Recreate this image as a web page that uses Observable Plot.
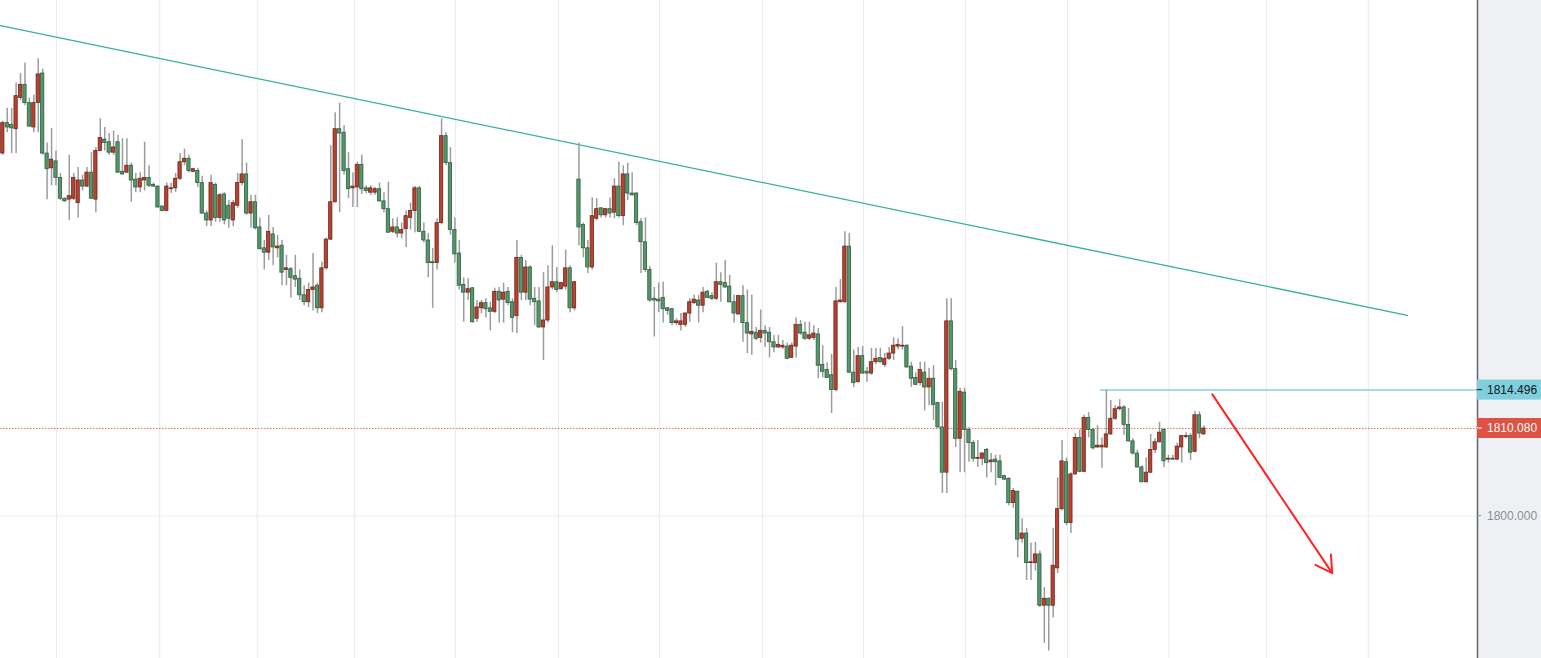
<!DOCTYPE html>
<html><head><meta charset="utf-8">
<script src="https://cdn.jsdelivr.net/npm/d3@7"></script>
<script src="https://cdn.jsdelivr.net/npm/@observablehq/plot@0.6"></script>
<style>
html,body{margin:0;padding:0;background:#fff;overflow:hidden}
#chart{width:1541px;height:658px;background:linear-gradient(to right,#ffffff 0,#ffffff 1477px,#eef0f4 1477px)}
#chart svg{display:block}
</style></head><body><div id="chart"></div>
<script>
const open=[1841.7,1845.2,1845.0,1844.5,1848.1,1849.6,1847.5,1844.7,1847.5,1850.9,1841.7,1840.0,1840.8,1838.9,1836.5,1836.4,1836.5,1836.0,1838.6,1837.9,1839.5,1836.4,1842.0,1843.3,1843.0,1841.8,1843.0,1839.6,1839.5,1840.3,1838.7,1837.8,1838.6,1838.9,1838.1,1837.9,1835.6,1835.1,1837.6,1837.7,1838.8,1840.7,1841.1,1839.6,1839.7,1838.3,1834.8,1834.0,1838.1,1834.3,1837.0,1835.7,1834.0,1835.7,1838.3,1839.3,1834.8,1836.1,1833.2,1830.8,1830.3,1832.4,1830.8,1831.1,1828.3,1828.4,1827.6,1827.3,1825.4,1824.6,1826.0,1826.5,1823.9,1828.5,1831.8,1836.1,1844.5,1844.1,1839.9,1837.7,1837.8,1840.4,1837.7,1837.2,1837.2,1837.6,1836.2,1835.3,1832.7,1833.2,1832.5,1833.0,1834.3,1835.1,1837.7,1832.7,1831.7,1829.2,1829.1,1833.7,1843.7,1840.6,1832.9,1830.2,1826.6,1825.7,1826.2,1822.7,1823.9,1824.5,1823.9,1823.5,1825.8,1824.9,1825.8,1824.6,1823.0,1829.7,1825.7,1828.6,1825.0,1824.7,1821.7,1822.5,1826.3,1826.9,1826.1,1826.4,1828.5,1823.9,1838.7,1833.5,1830.8,1828.6,1834.2,1835.4,1834.6,1835.3,1834.9,1837.9,1834.5,1839.3,1837.1,1837.1,1833.8,1831.5,1828.3,1825.0,1824.9,1825.1,1823.9,1823.8,1822.2,1822.0,1822.0,1823.3,1824.5,1824.8,1824.2,1825.8,1825.3,1825.0,1826.9,1826.8,1826.4,1824.6,1823.2,1825.3,1822.2,1820.9,1821.1,1820.5,1821.3,1821.1,1820.0,1819.4,1819.4,1819.5,1818.2,1819.5,1822.0,1821.1,1820.4,1820.5,1820.9,1817.4,1816.8,1816.2,1814.5,1824.6,1824.6,1831.0,1816.5,1815.4,1818.4,1816.6,1816.4,1817.7,1818.2,1817.4,1818.1,1818.7,1819.5,1819.5,1819.6,1817.2,1815.9,1815.3,1816.5,1814.8,1815.8,1813.0,1810.2,1805.0,1822.4,1816.9,1808.9,1814.2,1809.9,1808.4,1806.6,1806.6,1807.6,1806.2,1806.5,1806.3,1804.6,1804.3,1801.5,1802.8,1797.4,1798.0,1794.6,1794.6,1795.6,1789.7,1790.5,1789.7,1794.0,1800.8,1806.2,1799.2,1804.8,1809.0,1805.1,1811.3,1809.9,1807.9,1807.9,1807.9,1809.4,1811.2,1812.3,1812.5,1810.5,1808.6,1807.2,1805.6,1803.9,1805.0,1807.6,1808.5,1809.9,1806.5,1806.6,1806.5,1807.9,1809.1,1809.2,1807.4,1811.6,1809.4];
const high=[1845.4,1846.9,1846.9,1849.8,1850.9,1852.1,1848.1,1848.4,1852.6,1851.4,1842.9,1844.6,1842.0,1839.4,1836.6,1841.5,1839.4,1840.1,1839.2,1840.1,1841.8,1842.4,1845.7,1844.7,1844.0,1844.3,1843.8,1843.4,1843.4,1840.6,1839.4,1839.5,1843.0,1840.3,1838.3,1838.0,1835.7,1838.3,1838.3,1839.4,1841.7,1842.2,1841.5,1840.0,1840.0,1839.1,1835.1,1839.2,1838.3,1837.1,1837.2,1836.3,1836.3,1839.4,1843.3,1840.6,1836.9,1836.9,1834.3,1831.7,1834.6,1833.2,1832.3,1831.7,1830.0,1828.6,1830.0,1828.3,1826.5,1826.8,1830.2,1826.8,1829.2,1832.0,1842.6,1846.4,1847.5,1844.9,1841.8,1839.5,1840.7,1841.5,1838.0,1838.0,1837.8,1838.3,1837.2,1838.4,1834.2,1834.3,1833.7,1835.1,1836.0,1837.9,1837.9,1833.7,1832.5,1830.8,1834.2,1845.7,1844.1,1842.4,1834.3,1831.7,1827.4,1827.3,1826.3,1824.8,1824.8,1825.0,1824.6,1826.2,1826.3,1826.8,1826.3,1825.0,1831.7,1830.0,1829.4,1828.8,1826.3,1826.3,1828.0,1828.8,1831.1,1828.6,1826.9,1830.6,1828.8,1827.0,1842.9,1833.7,1831.7,1836.6,1836.5,1835.5,1835.4,1836.6,1838.8,1840.7,1840.3,1840.6,1839.5,1837.2,1834.2,1834.3,1828.7,1826.3,1826.8,1826.9,1824.0,1823.9,1822.7,1823.3,1823.4,1825.0,1825.4,1825.4,1826.3,1826.0,1825.7,1829.1,1828.0,1829.4,1827.7,1825.4,1825.4,1826.5,1826.0,1825.4,1821.7,1823.7,1821.9,1821.7,1820.8,1820.8,1820.2,1819.9,1819.9,1822.8,1822.5,1822.3,1822.3,1821.9,1821.6,1819.6,1817.6,1818.6,1826.3,1827.2,1832.7,1832.5,1819.1,1819.4,1819.5,1817.1,1819.3,1819.3,1819.3,1818.7,1819.4,1820.5,1820.4,1821.8,1819.7,1817.7,1816.5,1817.7,1817.7,1817.0,1817.3,1813.1,1813.1,1825.0,1825.0,1817.9,1814.7,1814.7,1810.2,1808.7,1808.7,1807.3,1807.8,1807.2,1807.0,1807.0,1804.7,1804.4,1803.2,1802.9,1799.7,1798.6,1796.9,1797.0,1796.0,1791.8,1790.6,1798.6,1804.4,1808.7,1806.7,1805.0,1809.5,1809.9,1811.6,1811.9,1810.1,1810.4,1809.0,1814.5,1813.3,1812.7,1813.4,1812.7,1812.4,1808.9,1807.6,1805.8,1806.7,1809.4,1808.9,1810.8,1810.1,1807.0,1807.0,1808.4,1809.3,1809.6,1809.5,1812.0,1812.0,1810.4];
const low=[1841.5,1844.1,1841.7,1841.7,1847.8,1847.2,1844.7,1844.1,1844.1,1841.5,1836.4,1838.0,1838.0,1836.3,1836.1,1834.0,1836.3,1834.3,1837.4,1837.8,1836.4,1834.9,1841.9,1842.0,1841.5,1841.5,1839.4,1839.2,1839.4,1836.1,1837.2,1837.2,1837.4,1837.8,1837.8,1835.4,1835.0,1835.0,1837.1,1837.2,1838.6,1840.3,1839.5,1839.5,1837.8,1834.7,1833.3,1833.3,1833.8,1833.8,1833.5,1833.1,1833.3,1835.4,1838.0,1834.6,1833.1,1832.9,1830.6,1828.3,1829.4,1828.8,1829.7,1826.5,1826.5,1825.1,1826.3,1824.8,1824.2,1824.0,1823.6,1823.3,1823.4,1828.3,1831.7,1836.0,1834.9,1839.2,1836.5,1835.5,1835.5,1837.0,1837.1,1836.9,1836.9,1836.1,1834.9,1832.5,1832.5,1832.0,1831.9,1830.9,1832.9,1832.6,1832.6,1831.4,1827.4,1823.9,1828.3,1833.5,1840.3,1832.3,1829.1,1826.0,1822.3,1824.8,1822.2,1822.3,1823.3,1822.8,1821.3,1823.3,1822.2,1822.2,1824.2,1821.1,1821.0,1824.8,1824.8,1824.2,1821.9,1821.6,1817.9,1822.2,1826.0,1825.7,1826.0,1826.0,1823.4,1823.6,1831.1,1829.7,1827.9,1828.3,1834.0,1834.3,1834.3,1834.3,1834.2,1834.3,1833.4,1836.3,1836.8,1833.4,1827.9,1828.0,1824.6,1820.6,1823.4,1822.2,1823.1,1821.9,1821.9,1821.3,1821.7,1822.3,1824.3,1822.2,1823.4,1825.0,1824.8,1824.8,1824.6,1826.2,1824.5,1822.2,1823.1,1820.0,1818.7,1818.5,1820.2,1819.9,1819.4,1818.2,1818.8,1819.3,1819.2,1818.0,1818.1,1818.2,1820.8,1820.2,1820.2,1820.2,1815.8,1815.9,1815.8,1811.8,1814.3,1824.5,1824.5,1816.4,1814.8,1815.3,1816.3,1815.4,1816.2,1817.4,1817.6,1817.1,1817.9,1817.9,1819.1,1819.1,1817.0,1814.8,1815.0,1815.0,1812.1,1812.7,1811.0,1810.1,1802.6,1802.6,1816.7,1807.9,1805.0,1805.0,1806.2,1806.2,1805.6,1805.8,1804.4,1805.0,1803.5,1804.3,1804.1,1801.2,1800.9,1795.2,1796.9,1792.6,1792.6,1793.7,1789.5,1785.4,1784.5,1788.3,1793.4,1800.6,1798.9,1798.0,1804.7,1805.0,1805.0,1809.0,1807.6,1807.8,1805.5,1807.8,1809.3,1811.0,1812.1,1809.3,1808.5,1807.0,1805.5,1803.8,1803.8,1804.9,1807.2,1808.4,1805.6,1806.1,1806.4,1806.4,1806.1,1808.9,1806.4,1807.3,1808.9,1809.3];
const close=[1845.2,1844.7,1844.6,1848.3,1849.6,1847.5,1844.8,1847.5,1850.8,1841.7,1839.9,1841.0,1838.9,1836.5,1836.2,1836.8,1838.9,1838.6,1837.9,1839.5,1836.5,1842.0,1843.5,1842.9,1841.8,1842.4,1839.5,1839.3,1840.3,1838.6,1837.8,1838.8,1838.9,1838.0,1837.9,1835.5,1835.1,1837.9,1837.7,1838.8,1840.7,1841.1,1839.7,1839.9,1838.3,1834.8,1834.0,1838.3,1834.3,1836.9,1834.0,1834.2,1836.0,1838.3,1839.3,1834.8,1836.1,1833.1,1830.7,1830.3,1832.7,1830.9,1831.0,1828.0,1828.5,1827.4,1827.2,1825.4,1824.6,1826.0,1826.3,1823.9,1828.5,1831.8,1836.1,1844.5,1844.0,1839.7,1837.6,1837.9,1840.4,1837.6,1837.4,1837.7,1837.6,1836.2,1835.3,1832.6,1833.2,1832.5,1832.9,1834.5,1835.1,1837.7,1832.7,1831.7,1829.1,1829.1,1833.7,1843.7,1840.6,1832.9,1830.1,1826.5,1825.7,1826.1,1822.3,1824.0,1824.5,1823.8,1823.5,1825.8,1824.8,1825.7,1824.5,1822.8,1829.7,1825.7,1828.6,1824.9,1824.6,1821.7,1822.5,1826.3,1826.9,1826.0,1826.8,1828.5,1823.9,1826.9,1833.2,1830.8,1828.6,1834.5,1835.3,1834.6,1835.3,1834.8,1837.9,1834.5,1839.3,1837.1,1836.9,1833.7,1831.5,1828.3,1824.8,1824.8,1824.7,1823.8,1823.6,1822.2,1822.4,1822.4,1823.3,1824.6,1824.9,1824.2,1825.7,1825.1,1825.0,1826.9,1826.6,1826.3,1824.6,1823.3,1825.3,1822.2,1821.0,1821.2,1820.4,1821.3,1821.0,1820.0,1819.4,1819.7,1819.6,1818.1,1819.6,1822.0,1821.0,1820.4,1820.8,1821.0,1817.3,1816.6,1815.9,1814.5,1824.7,1824.8,1831.0,1816.5,1815.3,1818.4,1816.4,1816.4,1817.7,1818.1,1817.7,1818.1,1818.7,1819.6,1819.7,1819.6,1817.1,1815.8,1815.1,1816.8,1814.8,1815.8,1812.8,1810.2,1805.0,1822.4,1816.9,1808.9,1814.3,1809.9,1808.4,1806.6,1806.7,1807.2,1806.1,1806.4,1806.2,1804.4,1804.2,1801.5,1802.9,1797.3,1798.0,1794.6,1794.7,1795.6,1789.7,1790.5,1789.7,1794.3,1800.8,1806.3,1799.2,1804.8,1809.0,1805.1,1811.3,1809.9,1807.8,1808.1,1808.1,1809.4,1811.2,1812.3,1812.5,1810.5,1808.6,1807.2,1805.6,1803.9,1805.0,1807.6,1808.5,1809.6,1806.3,1806.6,1806.5,1808.0,1809.2,1809.2,1807.3,1811.6,1809.5,1810.08];

const gridIdx=[12.1,35.4,57.4,79.4,102.1,125.4,148.2,171.4,194.2,217.2,240.2,263.1,285.1,308.1];
const yTicks=[1800];
const trendX=[-0.52,316.9];
const trendY=[1856.4,1823.1];
const levelPrice=1814.496;
const levelStart=247.7;
const lastPrice=1810.08;
const arrowX=[272.9,299.95];
const arrowY=[1814.0,1793.45];
const xDomain=[-0.52,332.74];
const yDomain=[1783.63,1859.3];

const data=open.map((o,i)=>({i,open:o,high:high[i],low:low[i],close:close[i]}));
const ups=data.filter(d=>d.close>=d.open);
const downs=data.filter(d=>d.close<d.open);
const hw=0.37;

const plot=Plot.plot({
  width:1541,height:658,marginLeft:0,marginRight:64,marginTop:0,marginBottom:0,
  style:{background:"transparent",fontFamily:"'Liberation Sans', Arial, sans-serif"},
  x:{domain:xDomain,axis:null},
  y:{domain:yDomain,axis:null},
  marks:[
    Plot.ruleX(gridIdx,{stroke:"#e5ebf2",strokeWidth:1}),
    Plot.ruleY(yTicks,{stroke:"#e8ecf1",strokeWidth:1}),
    Plot.line(trendX.map((x,k)=>[x,trendY[k]]),{stroke:"#35b09c",strokeWidth:1.3}),
    Plot.ruleY([lastPrice],{stroke:"#ee6a5c",strokeWidth:1,strokeDasharray:"1.5,1.5"}),
    Plot.ruleY([levelPrice],{x1:()=>levelStart,x2:()=>xDomain[1],stroke:"#a6dbe6",strokeWidth:2}),
    Plot.ruleX(data,{x:"i",y1:"low",y2:"high",stroke:"#9c9c9c",strokeWidth:1.5}),
    Plot.rect(downs,{x1:d=>d.i-hw,x2:d=>d.i+hw,y1:"open",y2:"close",fill:"#55976b",stroke:"#2f5f40",strokeWidth:0.8}),
    Plot.rect(ups,{x1:d=>d.i-hw,x2:d=>d.i+hw,y1:"open",y2:"close",fill:"#b8412f",stroke:"#6e281d",strokeWidth:0.8}),
    Plot.arrow([0],{x1:()=>arrowX[0],y1:()=>arrowY[0],x2:()=>arrowX[1],y2:()=>arrowY[1],stroke:"#ff2424",strokeWidth:2,headLength:14,headAngle:60}),
    Plot.ruleX([xDomain[1]],{stroke:"#5f626c",strokeWidth:1.5})
  ]
});
document.getElementById("chart").appendChild(plot);

const ys=plot.scale("y"), xs=plot.scale("x");
const yf=d3.scaleLinear(ys.domain,ys.range);
const xf=d3.scaleLinear(xs.domain,xs.range);
const axX=xf(xDomain[1]);
const svg=d3.select(plot);
const g=svg.append("g").attr("font-family","'Liberation Sans', Arial, sans-serif").attr("font-size",12).attr("text-anchor","start");
yTicks.forEach(v=>{
  const y=yf(v);
  g.append("line").attr("x1",axX).attr("x2",axX+4).attr("y1",y).attr("y2",y).attr("stroke","#8a8e97");
  g.append("text").attr("x",axX+10).attr("y",y).attr("dy","0.35em").attr("text-anchor","start").attr("fill","#8a8e97").text(d3.format(".3f")(v));
});
const labels=[
  {v:levelPrice,bg:"#7fcfdc",fg:"#131722"},
  {v:lastPrice,bg:"#dd5242",fg:"#ffffff"}
];
labels.forEach(l=>{
  const y=yf(l.v);
  g.append("rect").attr("x",axX).attr("y",y-10).attr("width",70).attr("height",20).attr("fill",l.bg);
  g.append("line").attr("x1",axX).attr("x2",axX+5).attr("y1",y).attr("y2",y).attr("stroke",l.fg);
  g.append("text").attr("x",axX+10).attr("y",y).attr("dy","0.35em").attr("text-anchor","start").attr("fill",l.fg).text(d3.format(".3f")(l.v));
});
</script></body></html>
